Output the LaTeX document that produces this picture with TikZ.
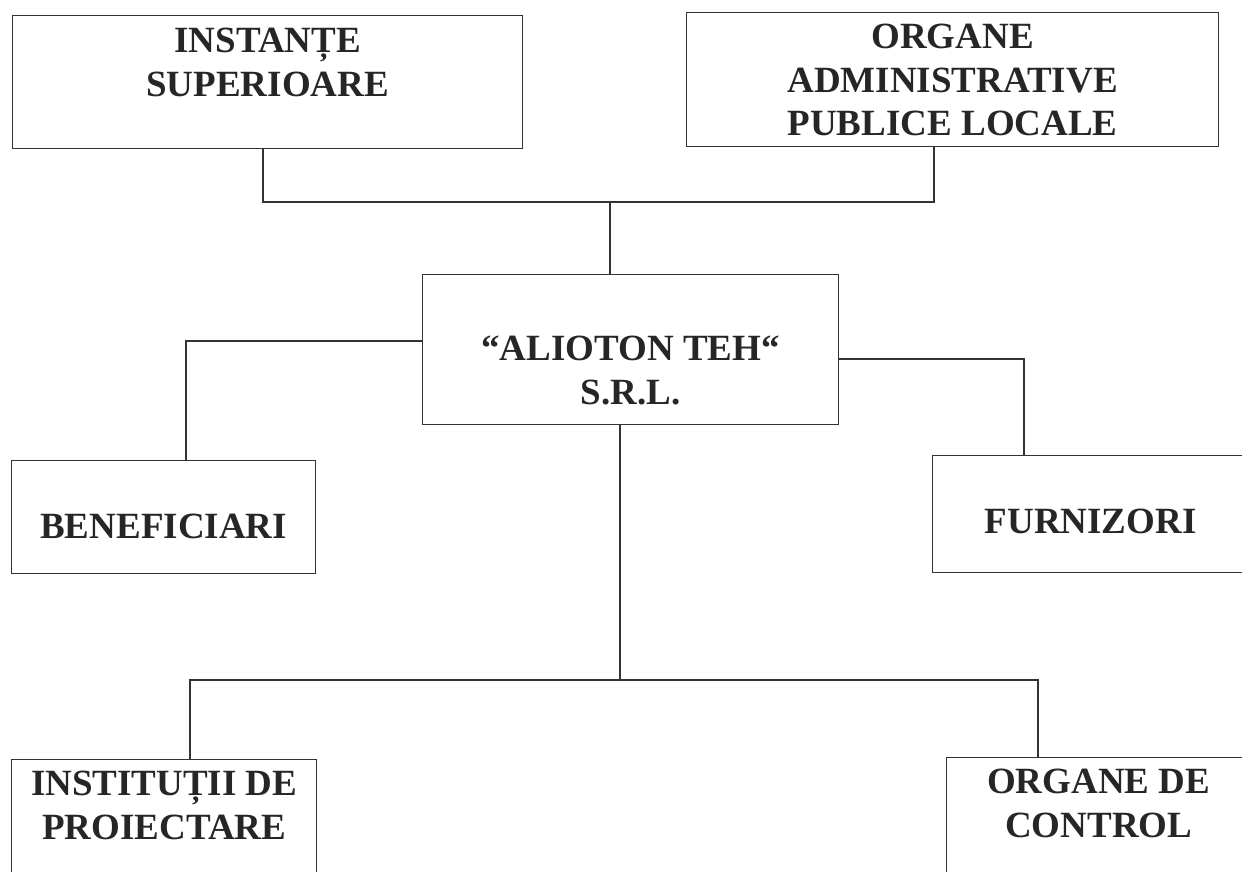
\documentclass[tikz,border=0pt]{standalone}
\usepackage{fontspec}
\setmainfont{Liberation Serif}
\usetikzlibrary{positioning}

\begin{document}
\begin{tikzpicture}[x=1pt, y=-1pt,
  unitbox/.style={draw=black!80, line width=1.3pt, anchor=north west, inner sep=0pt},
  unittext/.style={font=\bfseries\fontsize{37}{43.5}\selectfont, text=black!85, align=center, inner sep=0pt},
  link/.style={draw=black!80, line width=1.3pt}]

\useasboundingbox (0,0) rectangle (1242,872);
\clip (0,0) rectangle (1242,872);

% --- Boxes ---
\foreach \name/\x/\y/\w/\h in {
    inst/12/15/510/133, org/686/12/532/134, alioton/422/274/416/150,
    benef/11/460/304/113, furn/932/455/316/117,
    proiect/11/759/305/125, control/946/757/304/125} {
    \node[unitbox, minimum width=\w, minimum height=\h] (\name) at (\x,\y) {};
}

% --- Labels ---
\node[unittext, below=13pt of inst.north] (instT) {INSTANȚE\\SUPERIOARE};
\node[unittext, below=12pt of org.north] (orgT) {ORGANE\\ADMINISTRATIVE\\PUBLICE LOCALE};
\node[unittext, below=62pt of alioton.north] (aliotonT) {“ALIOTON TEH“\\S.R.L.};
\node[unittext, below=54pt of benef.north] (benefT) {BENEFICIARI};
\node[unittext, below=54pt of furn.north] (furnT) {FURNIZORI};
\node[unittext, below=12pt of proiect.north] (proiectT) {INSTITUȚII DE\\PROIECTARE};
\node[unittext, below=12pt of control.north] (controlT) {ORGANE DE\\CONTROL};

% --- Upper bus ---
\coordinate (jL) at (263,202);
\coordinate (jM) at (610,202);
\coordinate (jR) at (934,202);
\draw[link] (inst.south -| jL) -- (jL) -- (jR) -- (org.south -| jR);
\draw[link] (jM) -- (alioton.north -| jM);

% --- Side links ---
\coordinate (bB) at (186,341);
\draw[link] (alioton.west |- bB) -- (bB) -- (benef.north -| bB);
\coordinate (fB) at (1024,359);
\draw[link] (alioton.east |- fB) -- (fB) -- (furn.north -| fB);

% --- Lower bus ---
\coordinate (dL) at (190,680);
\coordinate (dM) at (620,680);
\coordinate (dR) at (1038,680);
\draw[link] (alioton.south -| dM) -- (dM);
\draw[link] (proiect.north -| dL) -- (dL) -- (dR) -- (control.north -| dR);

\end{tikzpicture}
\end{document}
